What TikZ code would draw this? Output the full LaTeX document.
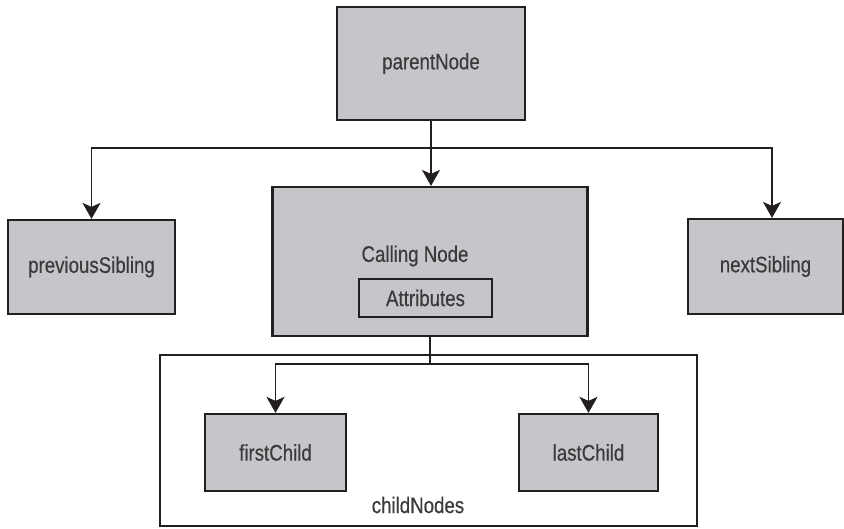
\documentclass[tikz,border=0pt]{standalone}
\usepackage{fontspec}
\setmainfont{Liberation Sans}[FakeStretch=0.83,FakeBold=0.4]
\usetikzlibrary{arrows.meta}
\definecolor{boxgray}{HTML}{C5C6CA}
\definecolor{inkline}{HTML}{231F20}
\definecolor{inktext}{HTML}{3A3A3A}
\tikzset{
  domnode/.style={draw=inkline,fill=boxgray,line width=2.2pt,inner sep=0pt,text=inktext},
  link/.style={draw=inkline,line width=1.8pt},
}
\begin{document}
\begin{tikzpicture}[x=1pt,y=-1pt,>={Stealth[length=16pt,width=18pt,inset=4pt]},font=\fontsize{22.5}{26}\selectfont]
\useasboundingbox (0,0) rectangle (844,528);
% tree of the calling node
\node[domnode,minimum width=188pt,minimum height=113pt] (parent) at (431,63.5){parentNode};
\node[domnode,minimum width=167pt,minimum height=94pt] (prev) at (91.5,267){previousSibling};
\node[domnode,minimum width=155pt,minimum height=95pt] (next) at (765.5,266.5){nextSibling};
\node[domnode,minimum width=315pt,minimum height=149pt] (calling) at (430,261.5){};
\node[text=inktext] (callname) at (415,256){Calling Node};
\node[domnode,line width=1.8pt,minimum width=133pt,minimum height=38pt] (attr) at (425.5,298){Attributes};
\node[draw=inkline,fill=white,line width=1.8pt,inner sep=0pt,minimum width=537pt,minimum height=171pt] (kids) at (428.5,440.5){};
\node[text=inktext] (kidsname) at (418,505){childNodes};
\node[domnode,minimum width=141pt,minimum height=77pt] (first) at (275.5,452.5){firstChild};
\node[domnode,minimum width=139pt,minimum height=77pt] (last) at (588.5,452.5){lastChild};
% connectors
\coordinate (bus) at (431,148); \coordinate (fork) at (430,364);
\draw[link,->] (parent.south) -- (parent.south |- calling.north);
\draw[link,->] (bus) -| (prev.north); \draw[link,->] (bus) -| ([xshift=6.5pt]next.north);
\draw[link] (calling.south) -- (fork);
\draw[link,->] (fork) -| (first.north); \draw[link,->] (fork) -| (last.north);
\end{tikzpicture}
\end{document}
